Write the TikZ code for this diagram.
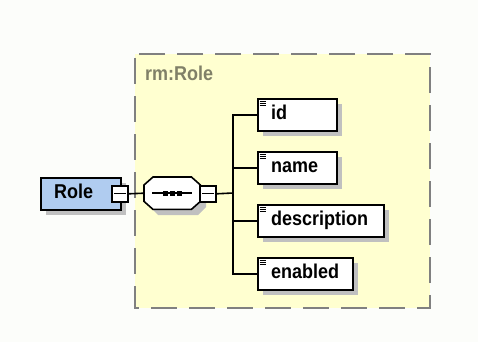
\documentclass[tikz,border=0pt]{standalone}
\usepackage{fontspec}
\setmainfont{Liberation Sans}
\newfontfamily\diafont[FakeStretch=0.9]{Liberation Sans}
\definecolor{bgpage}{RGB}{252,253,250}
\definecolor{groupfill}{RGB}{255,255,208}
\definecolor{groupline}{RGB}{128,128,128}
\definecolor{grouptext}{RGB}{128,128,104}
\definecolor{rolefill}{RGB}{176,204,240}
\definecolor{shadowc}{RGB}{192,192,192}
\tikzset{
  boxline/.style={draw=black, line width=1.6pt},
  elembox/.style={boxline, fill=white, rectangle, anchor=north west, inner sep=0pt, minimum height=32pt},
  lbl/.style={anchor=base west, inner sep=0pt, font=\diafont\fontsize{20}{22}\selectfont\bfseries},
  minusbox/.style={boxline, fill=white, rectangle, anchor=north west, inner sep=0pt, minimum width=16pt, minimum height=16pt},
  conn/.style={draw=black, line width=1.6pt},
  icon/.style={draw=black, line width=0.8pt},
}
\begin{document}
\begin{tikzpicture}[x=1pt,y=-1pt]
\useasboundingbox[fill=bgpage] (0,0) rectangle (478,342);
% group
\draw[fill=groupfill, draw=groupline, line width=1.5pt, dash pattern=on 26pt off 12pt, dash phase=-4pt] (135,54) rectangle (430,308);
\node[lbl, text=grouptext] (grp) at (145,81) {rm:Role};
% Role
\fill[shadowc] (46,183) rectangle (126,215);
\node[elembox, fill=rolefill, minimum width=80pt] (role) at (40,177) {};
\node[lbl] (rolet) at (54,198) {Role};
\node[minusbox] (rm) at (111,185) {};
\draw[icon, line width=1.2pt] ([xshift=3pt]rm.west) -- ([xshift=-3pt]rm.east);
% sequence (octagon)
\fill[shadowc] (158,185) -- (198,185) -- (206,193) -- (206,207) -- (198,215) -- (158,215) -- (150,207) -- (150,193) -- cycle;
\node[rectangle, draw=none, inner sep=0pt, minimum width=56pt, minimum height=32pt, anchor=north west] (seq) at (144,177) {};
\draw[boxline, fill=white] ([xshift=9pt]seq.north west) -- ([xshift=-9pt]seq.north east) -- ([yshift=-8pt]seq.north east) -- ([yshift=8pt]seq.south east) -- ([xshift=-9pt]seq.south east) -- ([xshift=9pt]seq.south west) -- ([yshift=8pt]seq.south west) -- ([yshift=-8pt]seq.north west) -- cycle;
\draw[conn, line width=1.2pt] (152,193) -- (192,193);
\foreach \xx in {163,170,177} \fill (\xx,190.5) rectangle ++(5,5);
\node[minusbox] (sm) at (199,185) {};
\draw[icon, line width=1.2pt] ([xshift=3pt]sm.west) -- ([xshift=-3pt]sm.east);
\draw[conn] (rm.east) -- (seq.west);
\coordinate (jn) at (233,193);
\draw[conn] (sm.east) -- (jn);
% elements
\foreach \nm/\tx/\yy/\ww in {eid/id/98/79, ename/name/151/79, edesc/description/204/126, eenab/enabled/257/95}{
  \fill[shadowc] (263,\yy+6) rectangle (257+\ww+6,\yy+38);
  \node[elembox, minimum width=\ww pt] (\nm) at (257,\yy) {};
  \node[lbl] (\nm t) at (271,\yy+21.5) {\tx};
  \draw[icon] (259.5,\yy+3) -- (266,\yy+3) (259.5,\yy+5.3) -- (266,\yy+5.3) (259.5,\yy+7.6) -- (266,\yy+7.6);
}
\draw[conn] (eid.west) -| (jn) |- (eenab.west);
\draw[conn] (jn) |- (ename.west);
\draw[conn] (jn) |- (edesc.west);
\end{tikzpicture}
\end{document}
